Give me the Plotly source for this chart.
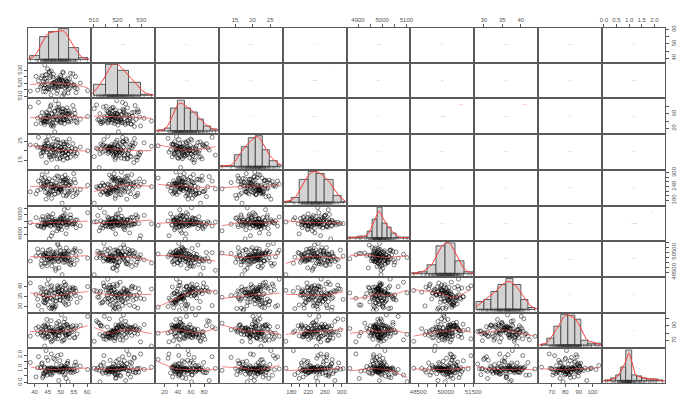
import numpy as np
import plotly.graph_objects as go

v1 = [47.3, 51.8, 44.2, 55.1, 49.9, 43.6, 52.4, 46.8, 50.7, 41.2,
      53.9, 45.1, 48.6, 51.2, 44.8, 50.3, 47.9, 54.6, 42.7, 49.5,
      52.9, 46.2, 43.1, 50.9, 55.8, 48.1, 44.5, 51.6, 47.0, 53.3,
      45.6, 49.8, 38.4, 52.1, 46.5, 43.9, 50.1, 56.2, 48.9, 44.0,
      51.4, 47.6, 53.7, 42.3, 49.2, 45.3, 52.7, 46.9, 50.5, 43.3,
      54.2, 48.3, 44.6, 51.0, 47.7, 60.2, 45.9, 52.3, 49.7, 42.9,
      50.8, 46.1, 53.0, 44.4, 48.5, 51.9, 40.6, 47.4, 55.4, 45.0,
      49.1, 52.6, 46.6, 43.4, 50.2, 54.9, 47.2, 45.4, 51.3, 48.0,
      44.1, 53.5, 49.6, 46.3, 52.0, 42.5, 50.6, 57.4, 45.7, 48.8,
      51.7, 43.8, 47.8, 55.6, 49.3, 44.7, 52.8, 41.5, 50.0, 46.4]
v2 = [517.4, 522.8, 513.6, 519.1, 526.3, 516.2, 521.5, 518.7, 528.9, 514.8,
      520.6, 516.9, 524.2, 511.7, 519.8, 523.1, 517.0, 527.4, 518.3, 521.9,
      515.5, 525.8, 519.4, 522.3, 512.9, 518.0, 526.9, 516.6, 520.2, 523.7,
      529.3, 517.8, 514.1, 521.2, 519.0, 534.3, 524.8, 516.0, 522.6, 518.9,
      513.0, 520.9, 527.8, 517.2, 523.4, 515.9, 519.6, 525.1, 510.2, 521.4,
      518.5, 522.0, 516.4, 528.2, 520.4, 514.5, 524.5, 517.6, 519.3, 526.0,
      521.7, 515.2, 519.9, 523.9, 512.3, 518.1, 525.5, 520.8, 516.8, 531.2,
      517.1, 524.0, 520.0, 513.8, 522.5, 518.6, 527.1, 515.7, 521.1, 519.7,
      526.6, 516.3, 522.9, 511.2, 519.2, 524.4, 517.5, 520.3, 528.5, 514.3,
      519.5, 523.3, 516.1, 525.3, 518.2, 521.6, 512.6, 522.1, 517.9, 529.7]
v3 = [45.2, 62.8, 37.1, 71.4, 53.6, 41.9, 58.3, 33.7, 66.2, 48.5,
      39.4, 55.1, 76.8, 44.0, 61.3, 35.2, 50.7, 83.5, 42.6, 57.9,
      68.4, 31.8, 47.3, 73.9, 38.6, 54.2, 64.7, 43.8, 29.1, 59.6,
      51.4, 36.5, 79.2, 46.1, 62.0, 40.3, 56.8, 34.9, 70.5, 49.2,
      33.1, 67.5, 44.7, 52.9, 87.6, 38.0, 60.4, 45.9, 74.6, 41.3,
      57.0, 35.6, 48.8, 65.3, 10.3, 53.1, 42.2, 77.3, 39.8, 63.6,
      46.6, 81.2, 37.7, 55.7, 44.4, 69.1, 32.4, 51.9, 61.7, 47.9,
      72.8, 40.9, 58.9, 36.2, 66.8, 49.6, 25.4, 54.8, 43.1, 97.0,
      38.9, 63.0, 47.0, 85.3, 52.3, 34.4, 59.1, 45.5, 71.9, 41.6,
      55.3, 30.7, 67.0, 49.9, 78.4, 37.4, 60.9, 92.1, 43.5, 26.8]
v4 = [20.4, 17.6, 22.9, 19.2, 24.1, 21.5, 16.3, 23.4, 18.8, 21.9,
      19.7, 22.3, 15.8, 20.9, 25.6, 18.1, 21.2, 23.8, 17.3, 20.0,
      22.6, 16.9, 19.5, 24.7, 21.0, 18.4, 13.9, 22.1, 20.6, 26.2,
      17.9, 21.7, 23.1, 19.9, 15.5, 22.4, 20.2, 18.6, 24.4, 21.3,
      23.6, 19.0, 16.7, 21.8, 20.5, 27.6, 18.3, 22.0, 17.0, 20.8,
      21.4, 24.9, 19.4, 15.2, 22.7, 20.1, 18.0, 23.3, 16.5, 21.6,
      18.9, 22.2, 20.7, 25.2, 11.3, 19.6, 23.0, 17.5, 21.1, 24.2,
      20.3, 16.1, 22.8, 19.3, 21.8, 18.2, 26.5, 20.9, 23.7, 17.8,
      22.5, 19.8, 15.9, 21.5, 24.6, 18.7, 20.4, 22.0, 16.8, 25.9,
      19.1, 23.5, 21.0, 17.2, 22.4, 20.6, 18.5, 27.1, 21.8, 19.4]
v5 = [236.4, 258.1, 214.7, 271.9, 229.3, 247.6, 203.8, 265.2, 241.0, 222.5,
      253.7, 209.9, 286.4, 233.1, 262.8, 218.6, 244.9, 196.2, 275.5, 227.7,
      211.3, 249.2, 238.8, 268.0, 205.6, 231.9, 257.4, 290.3, 220.1, 246.3,
      273.6, 225.0, 216.9, 252.5, 188.4, 239.7, 264.6, 213.2, 234.8, 279.0,
      242.2, 207.1, 261.0, 228.4, 283.7, 250.8, 219.5, 236.0, 167.0, 269.3,
      224.6, 255.9, 232.7, 201.5, 277.2, 245.4, 215.8, 266.7, 237.3, 292.6,
      258.9, 221.4, 248.0, 184.9, 230.2, 272.4, 208.3, 243.5, 226.1, 260.2,
      212.6, 276.3, 235.1, 254.6, 223.8, 296.8, 240.5, 204.4, 267.9, 229.9,
      247.1, 217.4, 263.4, 239.2, 198.7, 251.3, 281.5, 226.8, 210.4, 244.0,
      270.6, 233.5, 206.9, 256.4, 219.0, 303.5, 242.8, 264.0, 228.9, 249.8]
v6 = [4987, 5012, 4971, 4993, 5031, 4958, 4996, 5006, 4983, 4967,
      5024, 4989, 4975, 5044, 4998, 4936, 5015, 4981, 4963, 5008,
      4992, 4970, 5036, 4985, 4952, 5002, 4978, 4994, 5057, 4986,
      4866, 5019, 4990, 4974, 5027, 4982, 4965, 5010, 4946, 4997,
      5004, 4980, 5049, 4961, 4988, 5033, 4973, 4912, 4995, 5014,
      4977, 4999, 4984, 5022, 4969, 5066, 4991, 4955, 5001, 4979,
      5039, 4962, 4986, 5011, 4928, 4993, 5028, 4976, 4983, 5045,
      4968, 5007, 4990, 4949, 5017, 4984, 5003, 4972, 5088, 4995,
      4981, 5025, 4959, 4997, 4905, 5013, 4987, 4966, 5035, 4989,
      5052, 4975, 4994, 5009, 4943, 4982, 5103, 4964, 5021, 4891]
v7 = [50120, 49730, 50410, 49280, 50660, 49890, 50250, 49610, 50030, 50820,
      49470, 50340, 49810, 50590, 49150, 50180, 49960, 50470, 49680, 50070,
      50290, 49540, 50730, 49930, 50150, 48870, 50380, 49770, 50520, 49350,
      49850, 50210, 49620, 50940, 50010, 49420, 50310, 49710, 51220, 50090,
      50440, 49990, 49230, 50170, 49580, 50690, 49870, 50360, 48257, 50260,
      49760, 50550, 50050, 49490, 50330, 49910, 50780, 49650, 50140, 49070,
      50230, 49820, 50620, 49390, 50420, 49950, 50100, 49560, 50870, 49740,
      49580, 50480, 49120, 50200, 49880, 50710, 50040, 49660, 50300, 48690,
      50160, 49720, 50960, 49940, 50390, 49300, 50060, 50580, 49840, 51375,
      49510, 50270, 49790, 50640, 48930, 50110, 49970, 50450, 49690, 50240]
v8 = [35.4, 38.7, 32.1, 36.9, 40.3, 34.2, 37.5, 29.6, 39.1, 33.8,
      36.3, 31.2, 38.0, 34.9, 41.4, 36.7, 33.0, 39.6, 28.3, 37.2,
      34.5, 39.9, 36.0, 32.7, 37.8, 30.5, 35.7, 40.8, 33.4, 38.4,
      37.0, 33.6, 41.9, 35.1, 29.2, 38.9, 36.5, 32.3, 39.3, 34.7,
      31.8, 36.8, 34.0, 39.7, 37.4, 43.8, 35.5, 30.9, 38.2, 36.1,
      38.6, 32.9, 37.1, 35.8, 29.9, 40.1, 34.4, 36.6, 33.2, 39.0,
      35.2, 38.3, 31.5, 37.7, 34.8, 41.1, 36.2, 28.8, 39.4, 33.9,
      37.6, 34.1, 40.6, 32.5, 36.4, 38.8, 30.2, 35.9, 42.3, 37.3,
      33.3, 39.5, 35.0, 37.9, 31.0, 36.9, 38.1, 34.6, 29.4, 40.5,
      36.0, 32.0, 38.5, 35.6, 39.8, 33.7, 37.0, 30.7, 36.6, 34.3]
v9 = [83.4, 77.9, 89.2, 73.6, 85.7, 80.1, 91.3, 69.8, 84.0, 78.6,
      88.5, 75.2, 81.3, 94.6, 79.4, 86.9, 72.8, 90.0, 82.2, 76.5,
      79.0, 87.7, 83.9, 70.4, 89.8, 78.1, 84.6, 99.3, 81.7, 74.3,
      86.2, 80.7, 76.0, 91.9, 82.9, 62.5, 88.0, 78.9, 85.1, 73.1,
      90.6, 77.3, 84.3, 80.4, 95.8, 75.7, 87.4, 81.0, 68.9, 89.5,
      81.9, 88.8, 74.7, 85.9, 79.8, 102.6, 83.1, 77.6, 90.9, 76.9,
      84.8, 71.5, 87.1, 80.9, 93.4, 78.3, 86.5, 82.6, 73.9, 91.6,
      77.0, 89.9, 82.4, 75.9, 104.7, 84.5, 80.2, 88.2, 70.9, 86.0,
      87.9, 79.6, 83.6, 96.8, 76.2, 85.4, 81.5, 90.3, 78.7, 72.2,
      80.5, 91.1, 74.9, 86.7, 82.0, 98.5, 78.4, 88.6, 83.0, 68.2]
v10 = [0.97, 1.04, 0.81, 1.23, 0.93, 0.62, 1.41, 1.02, 0.76, 1.08,
       0.99, 1.62, 0.88, 1.06, 0.54, 1.17, 0.95, 0.73, 1.35, 1.01,
       0.84, 1.09, 0.36, 0.98, 1.27, 0.91, 1.83, 1.05, 0.70, 0.94,
       1.03, 0.79, 1.46, 0.96, 0.58, 1.12, 2.03, 0.86, 1.00, 0.66,
       1.19, 0.92, 0.74, 1.07, 0.15, 0.99, 1.55, 0.83, 1.04, 0.47,
       0.90, 1.31, 0.77, 1.02, 1.68, 0.95, 0.61, 1.08, 0.87, 1.43,
       1.06, 0.72, 0.98, 2.33, 0.89, 1.15, 0.41, 1.01, 0.80, 0.96,
       0.93, 1.38, 1.05, 0.68, 1.24, 0.97, 1.77, 0.85, 0.55, 1.03,
       0.78, 1.00, 1.59, 0.94, 0.30, 1.09, 0.82, 1.20, 0.99, 1.96,
       0.64, 1.07, 0.91, 1.49, 0.75, 1.02, 0.06, 1.88, 0.96, 2.08]

variables = [v1, v2, v3, v4, v5, v6, v7, v8, v9, v10]

# axis ticks and the labels R kept (top/bottom vs left/right)
tick_vals = [[40, 45, 50, 55, 60], [510, 515, 520, 525, 530], [20, 40, 60, 80],
             [15, 20, 25], [180, 200, 220, 240, 260, 280, 300],
             [4900, 4950, 5000, 5050, 5100],
             [48500, 49000, 49500, 50000, 50500, 51000, 51500],
             [30, 35, 40], [70, 80, 90, 100], [0.0, 0.5, 1.0, 1.5, 2.0]]
x_labels = [["40", "45", "50", "55", "60"], ["510", "", "520", "", "530"],
            ["20", "40", "60", "80"], ["15", "20", "25"],
            ["180", "", "220", "", "260", "", "300"],
            ["4900", "", "5000", "", "5100"],
            ["48500", "", "", "50000", "", "", "51500"],
            ["30", "35", "40"], ["70", "80", "90", "100"],
            ["0.0", "0.5", "1.0", "1.5", "2.0"]]
y_labels = [["40", "", "50", "", "60"], ["510", "", "520", "", "530"],
            ["20", "", "60", ""], ["15", "", "25"],
            ["180", "", "", "240", "", "", "300"],
            ["4900", "", "", "5050", ""],
            ["48500", "", "", "", "50500", "", ""],
            ["30", "35", "40"], ["70", "", "90", ""],
            ["0.0", "", "1.0", "", "2.0"]]

# histogram breaks
bin_start = [38.3, 510, 10, 11, 160, 4860, 48000, 28, 62, 0.06]
bin_size = [3.7, 5, 10, 2, 20, 20, 500, 2, 5, 0.208]

NV = len(variables)
LINE = "#5a5a5a"
TXT = "#555555"


def lowess(x, y, f=2 / 3, it=3):
    # plain port of R's lowess (used by panel.smooth)
    x = np.asarray(x, float)
    y = np.asarray(y, float)
    o = np.argsort(x)
    x, y = x[o], y[o]
    n = len(x)
    r = int(np.ceil(f * n))
    h = np.array([np.sort(np.abs(x - x[i]))[r - 1] for i in range(n)])
    w = np.clip(np.abs((x[:, None] - x[None, :]) / h), 0, 1)
    w = (1 - w ** 3) ** 3
    yest = np.zeros(n)
    delta = np.ones(n)
    for _ in range(it):
        for i in range(n):
            wt = delta * w[:, i]
            A = np.array([[wt.sum(), (wt * x).sum()], [(wt * x).sum(), (wt * x * x).sum()]])
            b = np.array([(wt * y).sum(), (wt * y * x).sum()])
            beta = np.linalg.lstsq(A, b, rcond=None)[0]
            yest[i] = beta[0] + beta[1] * x[i]
        res = y - yest
        s = np.median(np.abs(res))
        delta = np.clip(res / (6 * s), -1, 1)
        delta = (1 - delta ** 2) ** 2
    return x, yest


def kde(data, grid):
    d = np.asarray(data, float)
    n = len(d)
    iqr = np.subtract(*np.percentile(d, [75, 25]))
    bw = 0.9 * min(d.std(ddof=1), iqr / 1.34) * n ** -0.2
    z = (grid[:, None] - d[None, :]) / bw
    return np.exp(-0.5 * z ** 2).sum(1) / (n * bw * np.sqrt(2 * np.pi))


# data ranges with R's 4% padding
ranges = []
for v in variables:
    lo, hi = min(v), max(v)
    pad = 0.04 * (hi - lo)
    ranges.append([lo - pad, hi + pad])

fig = go.Figure()
layout = {}
gx = 1.0 / 639
gy = 1.0 / 357

for i in range(NV):
    for j in range(NV):
        k = i * NV + j + 1
        sfx = "" if k == 1 else str(k)
        xref, yref = "x" + sfx, "y" + sfx
        xd = [j / NV + gx, (j + 1) / NV - gx]
        yd = [1 - (i + 1) / NV + gy, 1 - i / NV - gy]
        base = dict(showgrid=False, zeroline=False, showline=True, mirror=True,
                    linecolor=LINE, linewidth=1, showticklabels=False, ticks="",
                    fixedrange=True, automargin=False)
        xa = dict(base, domain=xd, anchor=yref, range=ranges[j])
        ya = dict(base, domain=yd, anchor=xref)

        xv, yv = variables[j], variables[i]
        if i == j:
            edges = np.arange(bin_start[i], max(xv) + bin_size[i] * 1.001, bin_size[i])
            counts, _ = np.histogram(xv, bins=edges)
            hmax = (counts / (len(xv) * bin_size[i])).max()
            ya["range"] = [-0.05 * hmax, 1.03 * hmax]
            fig.add_trace(go.Histogram(
                x=xv, histnorm="probability density",
                xbins=dict(start=bin_start[i], end=edges[-1], size=bin_size[i]),
                marker=dict(color="#d3d3d3", line=dict(color="#3a3a3a", width=0.8)),
                xaxis=xref, yaxis=yref, showlegend=False))
            grid = np.linspace(ranges[i][0], ranges[i][1], 200)
            fig.add_trace(go.Scatter(
                x=grid, y=kde(xv, grid), mode="lines",
                line=dict(color="#ff3b3b", width=1),
                xaxis=xref, yaxis=yref, showlegend=False))
            fig.add_trace(go.Scatter(
                x=xv, y=[-0.02 * hmax] * len(xv), mode="markers",
                marker=dict(symbol="line-ns-open", size=3, color="#333333",
                            line=dict(width=0.5, color="#333333")),
                xaxis=xref, yaxis=yref, showlegend=False))
        elif i > j:
            ya["range"] = ranges[i]
            fig.add_trace(go.Scatter(
                x=xv, y=yv, mode="markers",
                marker=dict(symbol="circle-open", size=4, color="rgba(0,0,0,0.7)",
                            line=dict(width=0.7)),
                xaxis=xref, yaxis=yref, showlegend=False))
            sx, sy = lowess(xv, yv)
            fig.add_trace(go.Scatter(
                x=sx, y=sy, mode="lines",
                line=dict(color="rgba(240,80,80,0.7)", width=1),
                xaxis=xref, yaxis=yref, showlegend=False))
        else:
            ya["range"] = ranges[i]
            r = np.corrcoef(xv, yv)[0, 1]
            cx = sum(ranges[j]) / 2
            cy = sum(ranges[i]) / 2
            fig.add_trace(go.Scatter(
                x=[cx], y=[cy], mode="text", text=["%.2f" % abs(r)],
                textfont=dict(size=min(2.5, 1 + 6 * abs(r)), color="#a0a0a0"),
                xaxis=xref, yaxis=yref, showlegend=False))
            n = len(xv)
            t = abs(r) * np.sqrt((n - 2) / (1 - r * r))
            stars = "***" if t > 3.39 else "**" if t > 2.63 else "*" if t > 1.98 else ""
            if stars:
                fig.add_trace(go.Scatter(
                    x=[ranges[j][0] + 0.8 * (ranges[j][1] - ranges[j][0])],
                    y=[ranges[i][0] + 0.8 * (ranges[i][1] - ranges[i][0])],
                    mode="text", text=[stars],
                    textfont=dict(size=3, color="#ff8080"),
                    xaxis=xref, yaxis=yref, showlegend=False))

        tick_style = dict(ticks="outside", ticklen=3, tickwidth=0.7, tickcolor=TXT,
                          showticklabels=True, tickfont=dict(size=6, color=TXT))
        # outer axes alternate sides like R's pairs()
        if i == NV - 1 and j % 2 == 0:
            xa.update(tick_style, side="bottom", tickmode="array",
                      tickvals=tick_vals[j], ticktext=x_labels[j])
        if i == 0 and j % 2 == 1:
            xa.update(tick_style, side="top", tickmode="array",
                      tickvals=tick_vals[j], ticktext=x_labels[j])
        if j == 0 and i % 2 == 1:
            ya.update(tick_style, side="left", tickmode="array", tickangle=-90,
                      tickvals=tick_vals[i], ticktext=y_labels[i])
        if j == NV - 1 and i % 2 == 0:
            ya.update(tick_style, side="right", tickmode="array", tickangle=-90,
                      tickvals=tick_vals[i], ticktext=y_labels[i])

        layout["xaxis" + sfx] = xa
        layout["yaxis" + sfx] = ya

fig.update_layout(**layout)
fig.update_layout(
    width=691, height=408,
    margin=dict(l=27, r=25, t=27, b=24),
    paper_bgcolor="white", plot_bgcolor="white",
    font=dict(family="Liberation Sans, Arial, sans-serif", size=6, color=TXT),
    bargap=0, hovermode=False, showlegend=False,
)

# drop the browser's default body margin so the 691x408 figure sits at 0,0
fig.write_html("out.html", config={"displayModeBar": False},
               post_script="document.body.style.margin='0';document.body.style.overflow='hidden';")
